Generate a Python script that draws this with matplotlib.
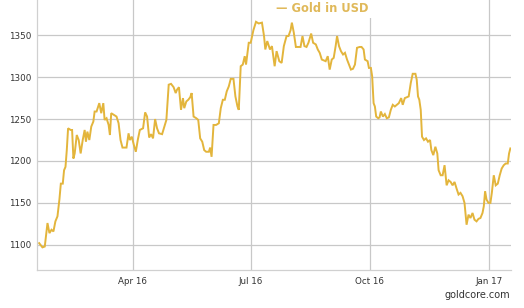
import matplotlib
matplotlib.use("Agg")
import matplotlib.pyplot as plt
import matplotlib.dates as mdates
import pandas as pd
import numpy as np

# Day numbers counted from 2016-01-01, and gold price in USD
days = [18.7, 21.2, 23.0, 25.1, 26.6, 28.2, 29.7, 31.2, 32.8, 34.3, 35.4, 36.9, 37.9, 39.0, 40.0,
        41.0, 43.0, 44.1, 45.1, 46.1, 47.7, 49.2, 50.7, 52.3, 53.8, 54.8, 55.9, 57.4, 58.9, 60.5,
        61.5, 63.0, 65.1, 66.6, 68.2, 69.2, 70.7, 72.3, 73.3, 74.3, 76.4, 78.4, 80.0, 81.5, 83.0,
        84.6, 86.1, 87.7, 88.7, 90.2, 91.8, 93.3, 94.8, 96.4, 98.9, 100.5, 102.0, 103.6, 105.1,
        106.6, 108.2, 109.7, 111.2, 113.6,
        115.3, 116.9, 118.7, 120.5, 122.5, 124.1, 125.1, 126.6, 128.2, 129.7, 130.7, 132.3, 133.8,
        135.3, 136.4, 137.9, 140.0, 141.5, 143.0, 144.6, 146.1, 147.6, 149.7, 150.7, 151.8, 153.3,
        155.3, 157.4, 158.9, 160.5, 162.0, 163.5, 165.1, 166.6, 168.7, 170.2, 171.8, 172.8, 174.3,
        175.9, 177.4, 178.4, 180.5, 182.0, 184.1, 186.1, 188.2, 190.7, 192.3, 193.3, 194.8, 196.9,
        198.4, 200.5, 202.0, 204.1, 205.9,
        207.6, 209.7, 211.2, 212.8, 213.8, 215.3, 216.9, 218.9, 220.5, 222.0, 223.5, 225.1, 226.6,
        228.7, 230.2, 232.3, 233.8, 235.3, 236.9, 238.4, 239.9, 241.5, 243.0, 244.6, 246.1, 247.6,
        248.7, 250.2, 251.7, 253.3, 254.8, 256.4, 257.9, 259.4, 261.0, 262.5, 264.1, 266.1, 267.6,
        269.2, 270.2, 272.3, 273.3, 274.8, 275.8, 276.9, 277.9, 278.9, 280.5, 281.5, 282.5, 284.1,
        285.6, 287.1, 288.7, 290.2, 291.7, 293.3, 294.8, 296.4, 298.2,
        299.4, 301.0, 302.5, 304.0, 305.6, 307.1, 309.2, 310.2, 311.2, 312.2, 313.3, 314.3, 315.8,
        317.4, 318.9, 320.5, 321.5, 323.0, 324.6, 326.1, 327.1, 328.7, 330.2, 331.7, 333.3, 334.8,
        336.4, 337.9, 339.4, 341.0, 342.5, 344.0, 345.6, 347.1, 348.7, 350.2, 351.7, 353.3, 354.8,
        356.4, 357.9, 359.4, 361.0, 362.0, 363.0, 364.1, 365.6, 367.1, 368.2, 369.7, 371.2, 372.8,
        374.3, 375.8, 377.4, 378.9, 380.5, 381.5, 382.5]

prices = [1102, 1097, 1098, 1126, 1114, 1118, 1116, 1128, 1134, 1154, 1173, 1173, 1189, 1193, 1213,
          1239, 1237, 1237, 1203, 1209, 1231, 1225, 1209, 1225, 1237, 1223, 1235, 1225, 1241, 1247,
          1259, 1259, 1269, 1257, 1269, 1249, 1251, 1243, 1231, 1257, 1255, 1253, 1245, 1225, 1216,
          1216, 1216, 1233, 1225, 1229, 1219, 1211, 1225, 1237, 1239, 1258, 1253, 1228, 1232,
          1227, 1250, 1239, 1233, 1232,
          1241, 1249, 1291, 1292, 1288, 1281, 1285, 1288, 1261, 1275, 1263, 1271, 1273,
          1276, 1281, 1253, 1251, 1249, 1227, 1223, 1213, 1211, 1211, 1216, 1205, 1243,
          1243, 1245, 1263, 1273, 1273, 1283, 1289, 1298, 1298, 1277, 1265, 1261, 1313,
          1315, 1325, 1315, 1341, 1341, 1356, 1366, 1364, 1365, 1349, 1333, 1343, 1333,
          1337, 1313, 1331, 1319, 1317,
          1337, 1349, 1349, 1356, 1365, 1353, 1336, 1336, 1336, 1349, 1337, 1336, 1341,
          1352, 1341, 1339, 1333, 1329, 1321, 1320, 1319, 1325, 1309, 1321, 1323, 1337,
          1349, 1337, 1331, 1327, 1329, 1321, 1315, 1309, 1310, 1315, 1335, 1336, 1336,
          1333, 1321, 1319, 1311, 1311, 1301, 1269, 1265, 1253, 1251, 1252, 1259, 1253,
          1256, 1251, 1252, 1261, 1267, 1265, 1267, 1269, 1275,
          1267, 1275, 1276, 1277, 1293, 1304, 1304, 1297, 1277, 1273, 1261, 1229, 1225,
          1227, 1223, 1225, 1213, 1207, 1217, 1209, 1189, 1183, 1183, 1195, 1171, 1177,
          1175, 1171, 1175, 1167, 1160, 1162, 1158, 1150, 1124, 1136, 1132, 1138, 1130,
          1128, 1131, 1132, 1138, 1146, 1164, 1154, 1150, 1150, 1162, 1183, 1171, 1173,
          1183, 1191, 1195, 1197, 1197, 1209, 1215]

yticks = [1100, 1150, 1200, 1250, 1300, 1350]
xtick_dates = ["2016-04-01", "2016-07-01", "2016-10-01", "2017-01-01"]
xtick_labels = ["Apr 16", "Jul 16", "Oct 16", "Jan 17"]
series_name = "Gold in USD"

dates = pd.Timestamp("2016-01-01") + pd.to_timedelta(days, unit="D")

plt.rcParams['font.family'] = ['DejaVu Sans']
fig = plt.figure(figsize=(5.24, 3.08), dpi=100)
ax = fig.add_axes([37/524, 38/308, (511-37)/524, 1 - 38/308])

gold = "#E3B53C"
grid_c = "#c8c8c8"
ax.plot(dates, prices, color=gold, lw=1.4, solid_joinstyle="miter", zorder=3)

ax.set_ylim(1070, 1392)
ax.set_xlim(pd.Timestamp("2016-01-18"), pd.Timestamp("2017-01-18"))
ax.set_yticks(yticks)
ax.set_xticks(pd.to_datetime(xtick_dates))
ax.set_xticklabels(xtick_labels)
ax.grid(True, color=grid_c, lw=0.9, zorder=0)
for s in ["top", "right"]:
    ax.spines[s].set_visible(False)
for s in ["left", "bottom"]:
    ax.spines[s].set_color("#d0d0d0")
    ax.spines[s].set_linewidth(0.9)
ax.tick_params(axis="both", length=0, labelsize=6.3, colors="#333333", pad=4)
ax.tick_params(axis="x", pad=5)

fig.text(322/524, 1 - 8/308, "\u2014 " + series_name, ha="center", va="center",
         fontsize=8.3, fontweight="bold", color="#E0B95A",
         bbox=dict(facecolor="white", edgecolor="none", pad=2.5), zorder=10)
fig.text(510/524, 1 - 295/308, "goldcore.com", ha="right", va="center",
         fontsize=7, color="#333333")

fig.savefig("out.png", dpi=100)
